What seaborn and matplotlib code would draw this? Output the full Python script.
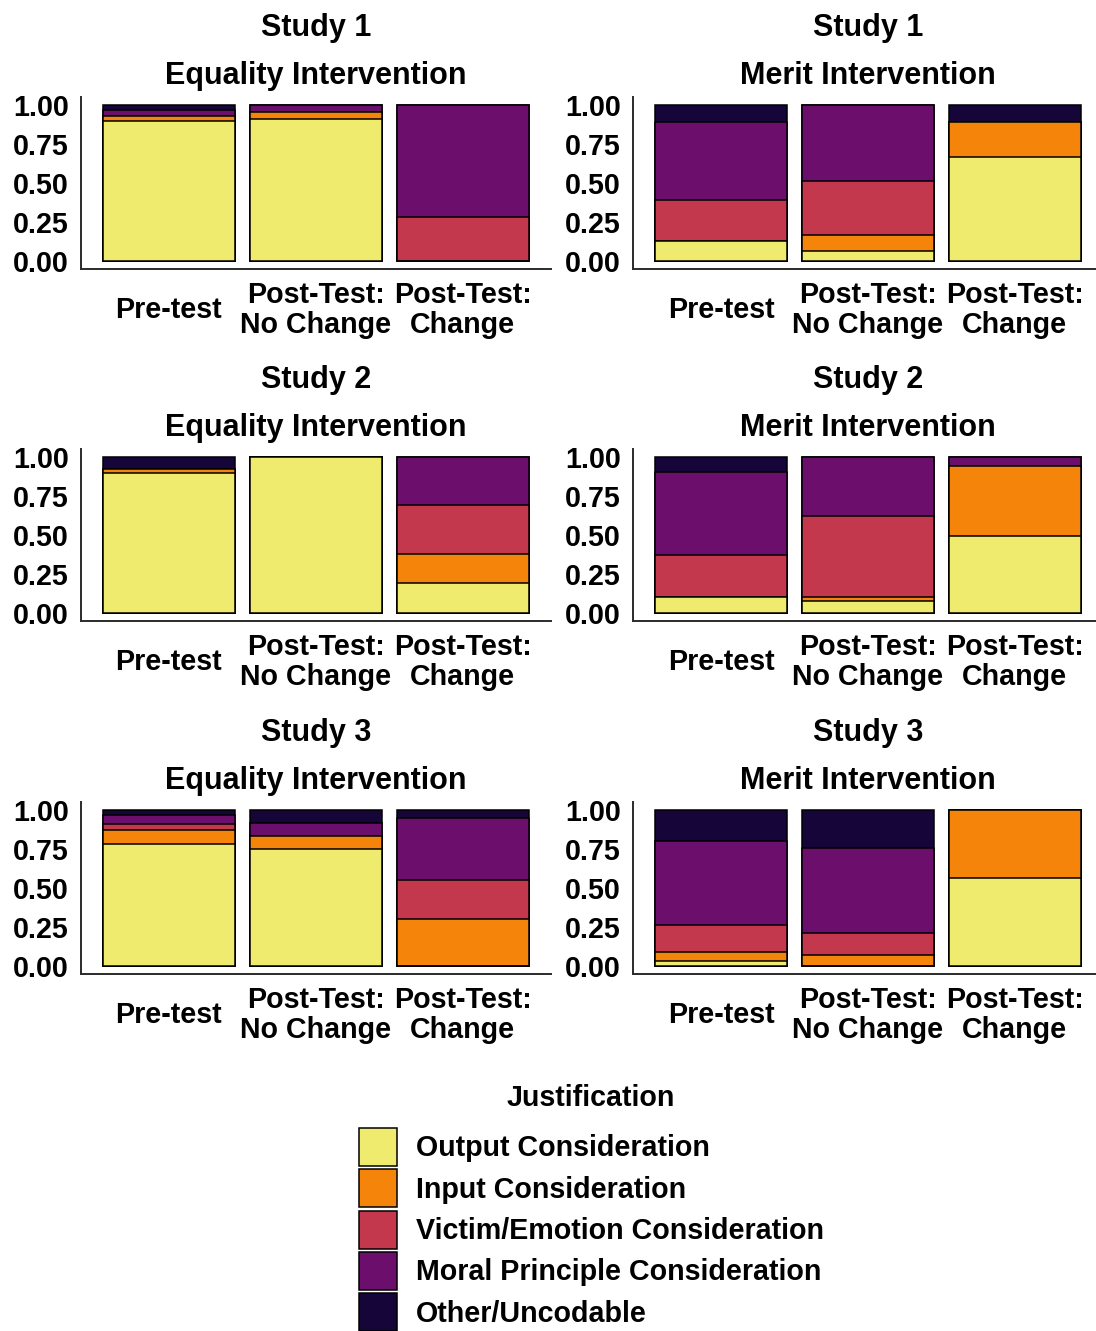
import numpy as np
import pandas as pd
import matplotlib
matplotlib.use("Agg")
import matplotlib.pyplot as plt
from matplotlib.patches import Patch
import seaborn as sns

# categories
times = ["Pre-test", "Post-Test:\nNo Change", "Post-Test:\nChange"]
justifications = ["Output Consideration", "Input Consideration",
                  "Victim/Emotion Consideration", "Moral Principle Consideration",
                  "Other/Uncodable"]
colors = ["#EFEB6F", "#F5850A", "#C3384C", "#6C0E6C", "#150538"]

# proportions per time point, columns follow `justifications`
s1_equality = [[0.90, 0.03, 0.00, 0.04, 0.03],
               [0.91, 0.045, 0.00, 0.045, 0.00],
               [0.00, 0.00, 0.28, 0.72, 0.00]]
s1_merit = [[0.125, 0.00, 0.265, 0.50, 0.11],
            [0.06, 0.105, 0.35, 0.485, 0.00],
            [0.665, 0.225, 0.00, 0.00, 0.11]]
s2_equality = [[0.90, 0.025, 0.00, 0.00, 0.075],
               [1.00, 0.00, 0.00, 0.00, 0.00],
               [0.19, 0.19, 0.31, 0.31, 0.00]]
s2_merit = [[0.10, 0.00, 0.27, 0.535, 0.095],
            [0.075, 0.025, 0.525, 0.375, 0.00],
            [0.495, 0.445, 0.00, 0.06, 0.00]]
s3_equality = [[0.78, 0.09, 0.04, 0.055, 0.035],
               [0.75, 0.085, 0.00, 0.08, 0.085],
               [0.00, 0.30, 0.25, 0.40, 0.05]]
s3_merit = [[0.03, 0.06, 0.175, 0.535, 0.20],
            [0.00, 0.07, 0.14, 0.545, 0.245],
            [0.565, 0.435, 0.00, 0.00, 0.00]]

panels = [("Study 1", "Equality Intervention", s1_equality),
          ("Study 1", "Merit Intervention", s1_merit),
          ("Study 2", "Equality Intervention", s2_equality),
          ("Study 2", "Merit Intervention", s2_merit),
          ("Study 3", "Equality Intervention", s3_equality),
          ("Study 3", "Merit Intervention", s3_merit)]

sns.set_style("white")
plt.rcParams["font.family"] = ["Liberation Sans", "DejaVu Sans"]
plt.rcParams["font.weight"] = "bold"
plt.rcParams["text.color"] = "black"

W, H = 1096, 1331
fig = plt.figure(figsize=(W / 100, H / 100), dpi=100)

# axes boxes in pixels: (left, right), (top, bottom)
cols_px = [(80.7, 551.0), (633.0, 1103.0)]
rows_px = [(97.2, 268.5), (449.2, 620.8), (802.2, 973.8)]

tick_fs = 20.6
title_fs = 22

for i, (study, cond, vals) in enumerate(panels):
    (l, r), (t, b) = cols_px[i % 2], rows_px[i // 2]
    ax = fig.add_axes([l / W, (H - b) / H, (r - l) / W, (b - t) / H])

    df = pd.DataFrame(vals, columns=justifications)
    df.insert(0, "time", times)
    cum = df[justifications].cumsum(axis=1)
    # draw from the top of the stack down so lower segments sit on top
    for j in range(len(justifications) - 1, -1, -1):
        d = pd.DataFrame({"time": times, "y": cum[justifications[j]]})
        sns.barplot(data=d, x="time", y="y", order=times, color=colors[j],
                    saturation=1, width=0.9, edgecolor="black", linewidth=1.1,
                    errorbar=None, ax=ax)

    ax.set_xlim(-0.6, 2.6)
    ax.set_ylim(-0.05, 1.05)
    ax.set_xlabel("")
    ax.set_ylabel("")
    ax.set_yticks([0, 0.25, 0.5, 0.75, 1.0])
    ax.set_yticklabels(["0.00", "0.25", "0.50", "0.75", "1.00"])
    sns.despine(ax=ax)
    for s in ["left", "bottom"]:
        ax.spines[s].set_color("#2b2b2b")
        ax.spines[s].set_linewidth(1.4)
    ax.tick_params(axis="both", length=3.6, width=1.4, color="#2b2b2b",
                   labelsize=tick_fs, labelcolor="black")
    ax.tick_params(axis="y", pad=5)
    ax.tick_params(axis="x", pad=26)
    for lab in ax.get_xticklabels():
        lab.set_verticalalignment("center")
        lab.set_fontweight("bold")
        lab.set_linespacing(1.1)
    for lab in ax.get_yticklabels():
        lab.set_fontweight("bold")

    ax.annotate(study, xy=(0.5, 1), xycoords="axes fraction", xytext=(0, 44),
                textcoords="offset points", ha="center", va="baseline",
                fontsize=title_fs, fontweight="bold", color="black")
    ax.annotate(cond, xy=(0.5, 1), xycoords="axes fraction", xytext=(0, 9.5),
                textcoords="offset points", ha="center", va="baseline",
                fontsize=title_fs, fontweight="bold", color="black")

fig.text(591 / W, 1 - 1098 / H, "Justification", ha="center", va="center",
         fontsize=tick_fs, fontweight="bold", color="black")
handles = [Patch(facecolor=c, edgecolor="black", linewidth=1.1) for c in colors]
leg = fig.legend(handles, justifications, loc="upper left",
                 bbox_to_anchor=(359 / W, 1 - 1128 / H), frameon=False,
                 borderpad=0, borderaxespad=0,
                 prop={"size": tick_fs, "weight": "bold"},
                 handlelength=1.33, handleheight=1.66, handletextpad=0.66,
                 labelspacing=0.12)
for txt in leg.get_texts():
    txt.set_color("black")

fig.savefig("out.png", dpi=100)
